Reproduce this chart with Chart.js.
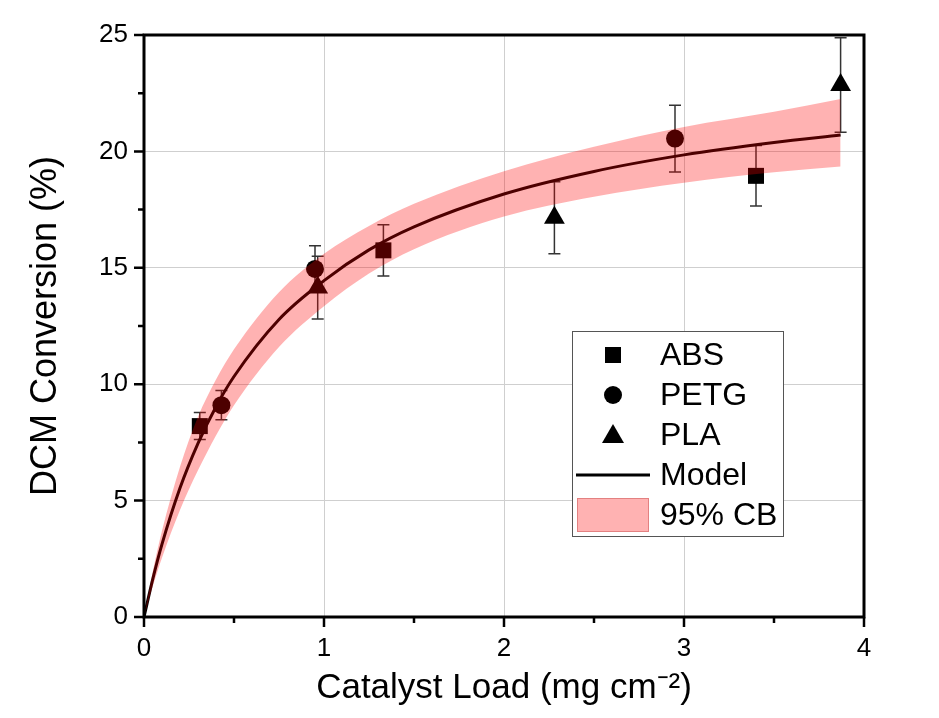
<!DOCTYPE html>
<html>
<head>
<meta charset="utf-8">
<script src="https://cdn.jsdelivr.net/npm/chart.js@4.4.0/dist/chart.umd.min.js"></script>
<style>
  body { margin: 0; background: #fff; }
  canvas { display: block; }
</style>
</head>
<body>
<canvas id="chart" width="939" height="718"></canvas>
<script>
// measured points (x = catalyst load, y = conversion, err = +/-)
const absX = [0.31, 1.33, 3.40];
const absY = [8.2, 15.75, 18.95];
const absErr = [0.58, 1.1, 1.3];

const petgX = [0.43, 0.95, 2.95];
const petgY = [9.1, 14.95, 20.55];
const petgErr = [0.63, 1.0, 1.43];

const plaX = [0.965, 2.28, 3.87];
const plaY = [14.15, 17.15, 22.85];
const plaErr = [1.35, 1.55, 2.03];

// model curve and 95% confidence band
const modelX = [0, 0.05, 0.1, 0.2, 0.3, 0.4, 0.5, 0.75, 1.0, 1.25, 1.5, 2.0, 2.5, 3.0, 3.5, 3.87];
const modelY = [0, 1.67, 3.13, 5.54, 7.46, 9.03, 10.33, 12.78, 14.45, 15.77, 16.76, 18.17, 19.14, 19.85, 20.38, 20.7];
const bandLow = [0, 1.35, 2.55, 4.6, 6.3, 7.8, 9.1, 11.6, 13.35, 14.75, 15.8, 17.2, 18.05, 18.65, 19.1, 19.35];
const bandHigh = [0, 2.0, 3.7, 6.45, 8.6, 10.2, 11.5, 13.95, 15.6, 16.8, 17.75, 19.15, 20.2, 21.05, 21.7, 22.25];

const xMajor = [0, 1, 2, 3, 4];
const xMinor = [0.5, 1.5, 2.5, 3.5];
const yMajor = [0, 5, 10, 15, 20, 25];
const yMinor = [2.5, 7.5, 12.5, 17.5, 22.5];

const legendItems = ['ABS', 'PETG', 'PLA', 'Model', '95% CB'];

const FONT = "'Liberation Sans', Arial, sans-serif";
const BAND = 'rgba(255,0,0,0.3)';

function pts(xs, ys) {
    return xs.map((x, i) => ({ x: x, y: ys[i] }));
}

// error bars, drawn under the marks
const errorBars = {
    id: 'errorBars',
    beforeDatasetsDraw(chart) {
        const ctx = chart.ctx;
        const sx = chart.scales.x, sy = chart.scales.y;
        const sets = [[absX, absY, absErr], [petgX, petgY, petgErr], [plaX, plaY, plaErr]];
        ctx.save();
        ctx.strokeStyle = '#333';
        ctx.lineWidth = 1.5;
        sets.forEach(s => {
            s[0].forEach((x, i) => {
                const px = sx.getPixelForValue(x);
                const top = sy.getPixelForValue(s[1][i] + s[2][i]);
                const bot = sy.getPixelForValue(s[1][i] - s[2][i]);
                ctx.beginPath();
                ctx.moveTo(px, top); ctx.lineTo(px, bot);
                ctx.moveTo(px - 6, top); ctx.lineTo(px + 6, top);
                ctx.moveTo(px - 6, bot); ctx.lineTo(px + 6, bot);
                ctx.stroke();
            });
        });
        ctx.restore();
    }
};

// frame, ticks and the in-plot legend
const frame = {
    id: 'frame',
    afterDraw(chart) {
        const ctx = chart.ctx;
        const a = chart.chartArea;
        const sx = chart.scales.x, sy = chart.scales.y;
        ctx.save();
        ctx.strokeStyle = '#000';
        ctx.lineWidth = 3;
        ctx.strokeRect(a.left, a.top, a.right - a.left, a.bottom - a.top);

        ctx.lineWidth = 2.5;
        ctx.beginPath();
        xMajor.forEach(v => { const p = sx.getPixelForValue(v); ctx.moveTo(p, a.bottom); ctx.lineTo(p, a.bottom + 10); });
        xMinor.forEach(v => { const p = sx.getPixelForValue(v); ctx.moveTo(p, a.bottom); ctx.lineTo(p, a.bottom + 6); });
        yMajor.forEach(v => { const p = sy.getPixelForValue(v); ctx.moveTo(a.left, p); ctx.lineTo(a.left - 10, p); });
        yMinor.forEach(v => { const p = sy.getPixelForValue(v); ctx.moveTo(a.left, p); ctx.lineTo(a.left - 6, p); });
        ctx.stroke();

        // legend
        const bx = 572.5, by = 331.5, bw = 211, bh = 205;
        ctx.fillStyle = '#fff';
        ctx.fillRect(bx, by, bw, bh);
        ctx.strokeStyle = '#555';
        ctx.lineWidth = 1;
        ctx.strokeRect(bx, by, bw, bh);

        const mx = 613, tx = 660;
        const rows = [355, 395, 435, 475, 515];
        ctx.fillStyle = '#000';
        ctx.fillRect(mx - 8, rows[0] - 8, 16, 16);
        ctx.beginPath(); ctx.arc(mx, rows[1], 9, 0, Math.PI * 2); ctx.fill();
        ctx.beginPath();
        ctx.moveTo(mx, rows[2] - 11); ctx.lineTo(mx + 11, rows[2] + 8); ctx.lineTo(mx - 11, rows[2] + 8);
        ctx.closePath(); ctx.fill();
        ctx.strokeStyle = '#000';
        ctx.lineWidth = 3;
        ctx.beginPath(); ctx.moveTo(576, rows[3]); ctx.lineTo(650, rows[3]); ctx.stroke();
        ctx.fillStyle = BAND;
        ctx.fillRect(577, rows[4] - 17, 72, 34);
        ctx.strokeStyle = 'rgba(200,80,80,0.5)';
        ctx.lineWidth = 1;
        ctx.strokeRect(577.5, rows[4] - 16.5, 71, 33);

        ctx.fillStyle = '#000';
        ctx.font = '32px ' + FONT;
        ctx.textBaseline = 'middle';
        legendItems.forEach((t, i) => ctx.fillText(t, tx, rows[i] + 1));
        ctx.restore();
    }
};

new Chart(document.getElementById('chart'), {
    type: 'scatter',
    data: {
        datasets: [
            { label: 'ABS', data: pts(absX, absY), pointStyle: 'rect', pointRadius: 11.3,
              backgroundColor: '#000', borderWidth: 0, order: 1 },
            { label: 'PETG', data: pts(petgX, petgY), pointStyle: 'circle', pointRadius: 9,
              backgroundColor: '#000', borderWidth: 0, order: 1 },
            { label: 'PLA', data: pts(plaX, plaY), pointStyle: 'triangle', pointRadius: 12,
              backgroundColor: '#000', borderWidth: 0, order: 1 },
            { label: 'Model', data: pts(modelX, modelY), showLine: true, borderColor: '#000',
              borderWidth: 3, pointRadius: 0, cubicInterpolationMode: 'monotone', order: 2 },
            { label: 'band low', data: pts(modelX, bandLow), showLine: true, borderWidth: 0,
              borderColor: 'rgba(0,0,0,0)', pointRadius: 0, cubicInterpolationMode: 'monotone', order: 0 },
            { label: '95% CB', data: pts(modelX, bandHigh), showLine: true, borderWidth: 0,
              borderColor: 'rgba(0,0,0,0)', backgroundColor: BAND, fill: '-1', pointRadius: 0,
              cubicInterpolationMode: 'monotone', order: 0 }
        ]
    },
    options: {
        responsive: false,
        animation: false,
        layout: { padding: { top: 35, right: 75, left: 0, bottom: 0 } },
        plugins: { legend: { display: false }, tooltip: { enabled: false } },
        scales: {
            x: {
                min: 0, max: 4,
                afterFit: s => { s.height = 101; },
                border: { display: false },
                grid: { drawTicks: false, color: c => (c.tick.value > 0 && c.tick.value < 4) ? '#cfcfcf' : 'rgba(0,0,0,0)', lineWidth: 1 },
                ticks: { stepSize: 1, padding: 16, color: '#000', font: { family: FONT, size: 26 } },
                title: { display: true, text: 'Catalyst Load (mg cm\u207B\u00B2)', color: '#000',
                         font: { family: FONT, size: 35 }, padding: { top: 0, bottom: 9 } }
            },
            y: {
                min: 0, max: 25,
                afterFit: s => { s.width = 144; },
                border: { display: false },
                grid: { drawTicks: false, color: c => (c.tick.value > 0 && c.tick.value < 25) ? '#cfcfcf' : 'rgba(0,0,0,0)', lineWidth: 1 },
                ticks: { stepSize: 5, padding: 16, color: '#000', font: { family: FONT, size: 26 } },
                title: { display: true, text: 'DCM Conversion (%)', color: '#000',
                         font: { family: FONT, size: 36 }, padding: { top: 24, bottom: 0 } }
            }
        }
    },
    plugins: [errorBars, frame]
});
</script>
</body>
</html>
